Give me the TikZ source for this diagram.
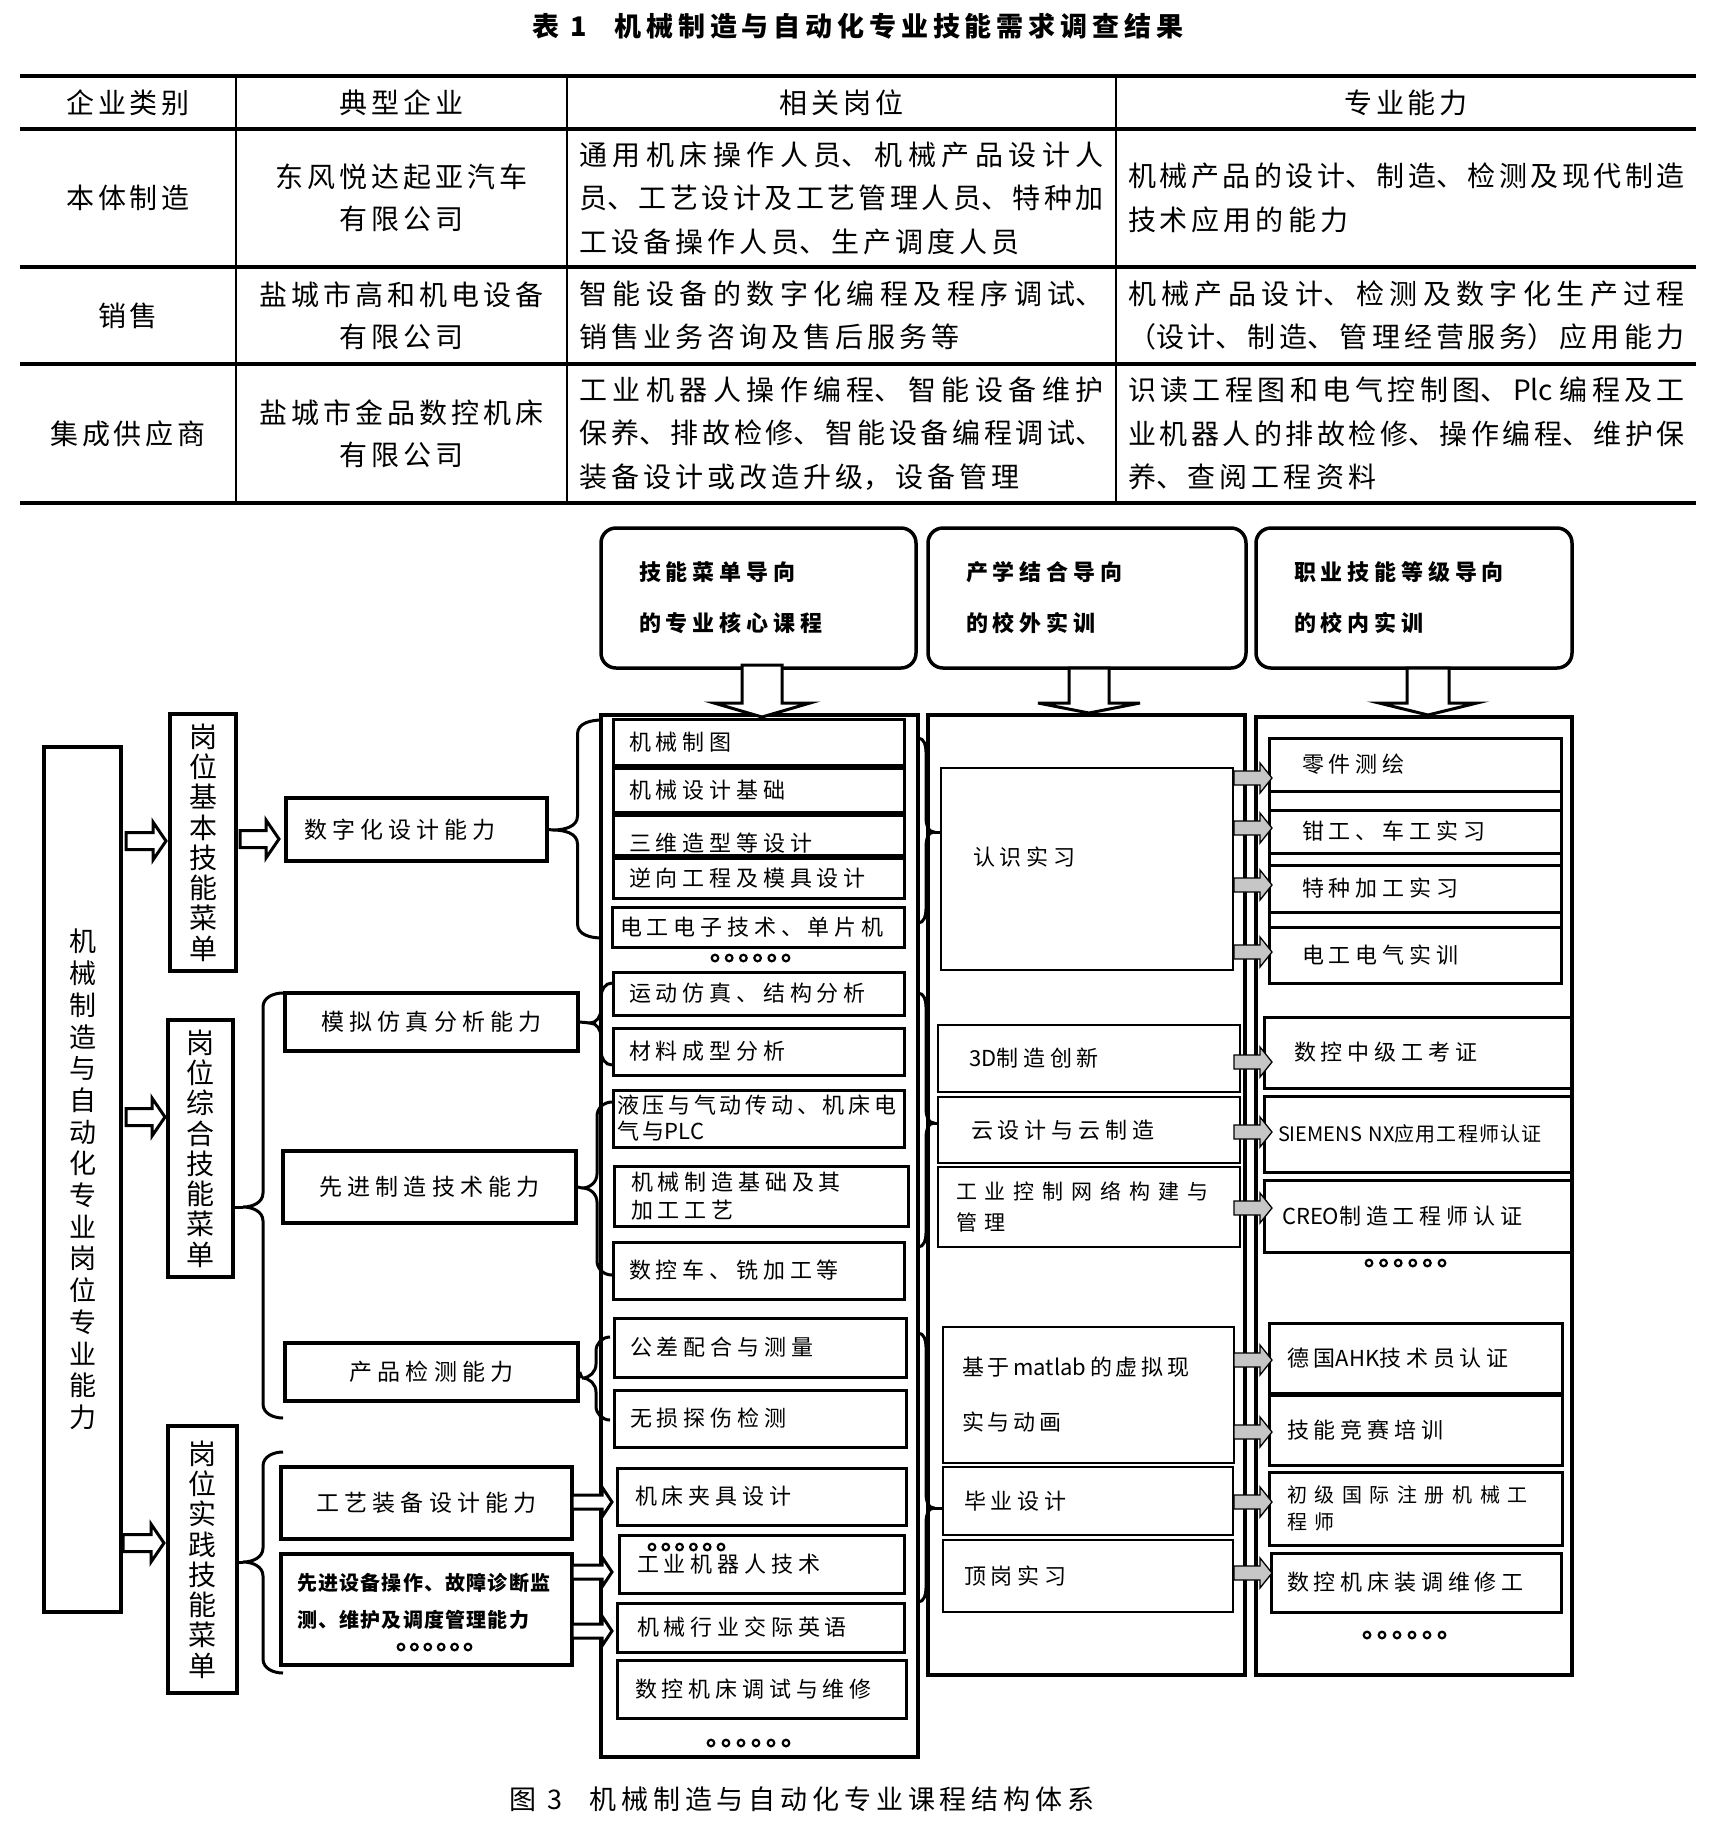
\documentclass[tikz,border=0pt]{standalone}
\usepackage{fontspec}
\setmainfont{Noto Sans CJK SC}
\newfontfamily\tabfont{Noto Sans CJK SC}[LetterSpace=14]
\newfontfamily\ttlfont{Noto Sans CJK SC}[LetterSpace=18]
\newfontfamily\figfont{Noto Sans CJK SC}[LetterSpace=22]
\newfontfamily\figfontm{Noto Sans CJK SC}[LetterSpace=17]
\newfontfamily\figfonts{Noto Sans CJK SC}[LetterSpace=6]
\newfontfamily\figfontw{Noto Sans CJK SC}[LetterSpace=38]
\usetikzlibrary{arrows.meta,calc,positioning}

% justified table cells
\newcommand{\tabj}{\rmfamily\fontsize{28}{43.5}\selectfont
  \XeTeXlinebreaklocale "zh"\XeTeXlinebreakskip=4pt plus 10pt minus 3pt\relax}
% latin words without tracking
\newcommand{\lat}[1]{{\rmfamily #1}}

% braces: x end, y top, y bottom, x tip, y tip
\newcommand{\brrad}{14}
\newcommand{\bracel}[5]{%
  \draw[brc] (#1,-#2) to[out=180,in=90] ({#1/2+#4/2},{-#2-\brrad})
    -- ({#1/2+#4/2},{-#5+\brrad}) to[out=-90,in=0] (#4,-#5)
    to[out=0,in=90] ({#1/2+#4/2},{-#5-\brrad})
    -- ({#1/2+#4/2},{-#3+\brrad}) to[out=-90,in=180] (#1,-#3);}
\newcommand{\bracer}[5]{%
  \draw[brc] (#1,-#2) to[out=0,in=90] ({#1/2+#4/2},{-#2-\brrad})
    -- ({#1/2+#4/2},{-#5+\brrad}) to[out=-90,in=180] (#4,-#5)
    to[out=180,in=90] ({#1/2+#4/2},{-#5-\brrad})
    -- ({#1/2+#4/2},{-#3+\brrad}) to[out=-90,in=0] (#1,-#3);}
% hollow block arrows
\newcommand{\harr}[6]{% x start, x tip, y, shaft half, head half, head length
  \draw[hol] (#1,{-#3+#4}) -- ({#2-#6},{-#3+#4}) -- ({#2-#6},{-#3+#5}) -- (#2,-#3)
    -- ({#2-#6},{-#3-#5}) -- ({#2-#6},{-#3-#4}) -- (#1,{-#3-#4}) -- cycle;}
\newcommand{\darr}[6]{% x centre, y top, y head, y tip, shaft half, head half
  \draw[hol] ({#1-#5},-#2) -- ({#1-#5},-#3) -- ({#1-#6},-#3) -- (#1,-#4)
    -- ({#1+#6},-#3) -- ({#1+#5},-#3) -- ({#1+#5},-#2) -- cycle;}
\newcommand{\garr}[1]{%
  \draw[garrow] (1234,{-#1+7}) -- (1260,{-#1+7}) -- (1260,{-#1+15}) -- (1272,-#1)
    -- (1260,{-#1-15}) -- (1260,{-#1-7}) -- (1234,{-#1-7}) -- cycle;}

\begin{document}
\begin{tikzpicture}[x=1pt,y=1pt,
every node/.style={inner sep=0pt},
tbl/.style={font=\tabfont\fontsize{28}{42}\selectfont, align=center},
tbj/.style={font=\tabj, align=justify, text width=#1},
vbox/.style={draw, line width=3.5pt, align=center, font=\fontsize{28}{30.3}\selectfont},
abox/.style={draw, line width=3.5pt, align=left, font=\figfont\fontsize{23}{28}\selectfont},
colbox/.style={draw, line width=3.5pt},
topbox/.style={draw, line width=3.5pt, rounded corners=15pt, align=left, inner xsep=38pt,
  font=\figfont\bfseries\fontsize{22}{51}\selectfont},
cbox/.style={draw, line width=3pt, align=left, inner xsep=16pt, text width=259pt,
  font=\figfont\fontsize{22}{28}\selectfont},
mbox/.style={draw, line width=2.5pt, align=left, font=\figfont\fontsize{22}{28}\selectfont},
rbox/.style={draw, line width=3pt, align=left, font=\figfont\fontsize{22}{28}\selectfont},
brc/.style={draw, line width=3pt},
hol/.style={draw, fill=white, line width=3pt, line join=miter},
garrow/.style={draw, fill=gray!45, line width=1.3pt},
dotc/.style={draw, line width=2.2pt}]
\useasboundingbox (0,0) rectangle (1716,-1824);

% table 1
\node[font=\ttlfont\bfseries\fontsize{27}{30}\selectfont] (ttl) at (858,-26) {表 1\quad 机械制造与自动化专业技能需求调查结果};
\draw[line width=4.5pt] (20,-76) -- (1696,-76);
\draw[line width=4pt] (20,-129) -- (1696,-129);
\draw[line width=3.5pt] (20,-267) -- (1696,-267);
\draw[line width=3.5pt] (20,-364) -- (1696,-364);
\draw[line width=4.5pt] (20,-503) -- (1696,-503);
\foreach \x in {236,567,1116} \draw[line width=2pt] (\x,-76) -- (\x,-503);
\node[tbl] (h1) at (128,-102.5) {企业类别};
\node[tbl] (h2) at (401.5,-102.5) {典型企业};
\node[tbl] (h3) at (841.5,-102.5) {相关岗位};
\node[tbl] (h4) at (1406,-102.5) {专业能力};
\node[tbl] (k1) at (128,-198) {本体制造};
\node[tbl] (e1) at (401.5,-198) {东风悦达起亚汽车\\有限公司};
\node[tbj=524pt] (p1) at (841.5,-198) {通用机床操作人员、机械产品设计人\linebreak 员、工艺设计及工艺管理人员、特种加\linebreak 工设备操作人员、生产调度人员};
\node[tbj=557pt] (s1) at (1406.5,-198) {机械产品的设计、制造、检测及现代制造\linebreak 技术应用的能力};
\node[tbl] (k2) at (128,-315.5) {销售};
\node[tbl] (e2) at (401.5,-315.5) {盐城市高和机电设备\\有限公司};
\node[tbj=524pt] (p2) at (841.5,-315.5) {智能设备的数字化编程及程序调试、\linebreak 销售业务咨询及售后服务等};
\node[tbj=557pt] (s2) at (1406.5,-315.5) {机械产品设计、检测及数字化生产过程\linebreak （设计、制造、管理经营服务）应用能力};
\node[tbl] (k3) at (128,-433.5) {集成供应商};
\node[tbl] (e3) at (401.5,-433.5) {盐城市金品数控机床\\有限公司};
\node[tbj=524pt] (p3) at (841.5,-433.5) {工业机器人操作编程、智能设备维护\linebreak 保养、排故检修、智能设备编程调试、\linebreak 装备设计或改造升级，设备管理};
\node[tbj=557pt] (s3) at (1406.5,-433.5) {识读工程图和电气控制图、Plc 编程及工\linebreak 业机器人的排故检修、操作编程、维护保\linebreak 养、查阅工程资料};

% figure 3: left part
\node[vbox, font=\fontsize{27}{31.7}\selectfont, minimum width=77pt, minimum height=865pt] (major) at (82.5,-1179.5) {机\\械\\制\\造\\与\\自\\动\\化\\专\\业\\岗\\位\\专\\业\\能\\力};
\node[vbox, minimum width=66pt, minimum height=257pt] (basic) at (203,-842.5) {岗\\位\\基\\本\\技\\能\\菜\\单};
\node[vbox, minimum width=65pt, minimum height=257pt] (comp) at (200.5,-1148.5) {岗\\位\\综\\合\\技\\能\\菜\\单};
\node[vbox, minimum width=69pt, minimum height=267pt] (pract) at (202.5,-1559.5) {岗\\位\\实\\践\\技\\能\\菜\\单};
\harr{126}{166}{841}{8.5}{19}{13}
\harr{126}{165}{1117}{8.5}{19}{13}
\harr{123}{164}{1543}{8.5}{19}{13}
\harr{240}{279}{839}{8.5}{19}{13}

\node[abox, text width=225pt, inner xsep=18pt, minimum height=63pt] (digit) at (416.5,-829.5) {\mbox{数字化设计能力}};
\node[abox, align=center, minimum width=293pt, minimum height=58pt] (simu) at (431.5,-1022) {模拟仿真分析能力};
\node[abox, align=center, minimum width=293pt, minimum height=72pt] (advm) at (429.5,-1187) {先进制造技术能力};
\node[abox, align=center, minimum width=293pt, minimum height=58pt] (insp) at (431.5,-1372) {产品检测能力};
\node[abox, align=center, minimum width=291pt, minimum height=72pt] (tool) at (426.5,-1503) {工艺装备设计能力};
\node[abox, text width=259pt, inner xsep=16pt, minimum height=111pt, text depth=55pt, font=\figfonts\bfseries\fontsize{20}{37}\selectfont] (oper) at (426.5,-1609.5) {\mbox{先进设备操作、故障诊断监}\\\mbox{测、维护及调度管理能力}};
\foreach \i in {0,...,5} \draw[dotc] ({401+13.4*\i},-1647) circle (3.3);

\bracel{283}{993}{1418}{243}{1207}
\draw[brc] (comp.east |- 0,-1207) -- (243,-1207);
\bracel{283}{1452}{1673}{243}{1562}
\draw[brc] (pract.east |- 0,-1562) -- (243,-1562);

% three guiding columns
\node[topbox, text width=239pt, minimum height=140pt] (guide1) at (758.5,-598) {\mbox{技能菜单导向}\\\mbox{的专业核心课程}};
\node[topbox, text width=242pt, minimum height=140pt] (guide2) at (1087,-598) {\mbox{产学结合导向}\\\mbox{的校外实训}};
\node[topbox, text width=240pt, minimum height=140pt] (guide3) at (1414,-598) {\mbox{职业技能等级导向}\\\mbox{的校内实训}};
\node[colbox, minimum width=317pt, minimum height=1042pt] (core) at (759.5,-1236) {};
\node[colbox, minimum width=317pt, minimum height=960pt] (outer) at (1086.5,-1195) {};
\node[colbox, minimum width=316pt, minimum height=958pt] (inner) at (1414,-1196) {};
\darr{762}{665}{703}{717}{20}{48}
\darr{1089}{668}{703}{713}{20}{51}
\darr{1428}{668}{703}{715}{21}{49}

% core courses
\node[cbox, minimum height=46pt] (c1) at (758.5,-742) {\mbox{机械制图}};
\node[cbox, minimum height=44pt] (c2) at (758.5,-790) {\mbox{机械设计基础}};
\node[cbox, minimum height=40pt, text height=34pt] (c3) at (758.5,-835) {\mbox{三维造型等设计}};
\node[cbox, minimum height=40pt] (c4) at (758.5,-878) {\mbox{逆向工程及模具设计}};
\node[cbox, minimum height=40pt, text width=276pt, inner xsep=8pt] (c5) at (758,-927) {\mbox{电工电子技术、单片机}};
\foreach \i in {0,...,5} \draw[dotc] ({715+14.2*\i},-958) circle (3.3);
\node[cbox, minimum height=43pt] (c6) at (758.5,-993.5) {\mbox{运动仿真、结构分析}};
\node[cbox, minimum height=47pt] (c7) at (758.5,-1051.5) {\mbox{材料成型分析}};
\node[cbox, minimum height=57pt, text width=283pt, inner xsep=4pt, font=\figfontm\fontsize{22}{26}\selectfont] (c8) at (758.5,-1118.5) {\mbox{液压与气动传动、机床电}\\\mbox{气与\lat{PLC}}};
\node[cbox, minimum height=60pt, text width=260pt, inner xsep=17pt] (c9) at (761,-1196) {\mbox{机械制造基础及其}\\\mbox{加工工艺}};
\node[cbox, minimum height=57pt] (c10) at (758.5,-1270.5) {\mbox{数控车、铣加工等}};
\node[cbox, minimum height=59pt, text width=260pt] (c11) at (760,-1347.5) {\mbox{公差配合与测量}};
\node[cbox, minimum height=57pt, text width=260pt] (c12) at (760,-1418.5) {\mbox{无损探伤检测}};
\node[cbox, minimum height=57pt, text width=253pt, inner xsep=18pt] (c13) at (761.5,-1496.5) {\mbox{机床夹具设计}};
\node[cbox, minimum height=58pt, text width=249pt, inner xsep=18pt] (c14) at (761.5,-1564) {\mbox{工业机器人技术}};
\foreach \i in {0,...,5} \draw[dotc] ({652+13.8*\i},-1547) circle (3.3);
\node[cbox, minimum height=49pt, text width=247pt, inner xsep=20pt] (c15) at (760.5,-1627.5) {\mbox{机械行业交际英语}};
\node[cbox, minimum height=58pt, text width=253pt, inner xsep=18pt] (c16) at (761.5,-1689) {\mbox{数控机床调试与维修}};
\foreach \i in {0,...,5} \draw[dotc] ({711+15*\i},-1743) circle (3.3);

\bracel{602}{720}{938}{553}{830}
\draw[brc] (digit.east) -- (553,-830);
\bracel{612}{983}{1065}{590}{1023}
\draw[brc] (simu.east) -- (590,-1023);
\bracel{612}{1102}{1275}{582}{1188}
\draw[brc] (advm.east) -- (582,-1188);
\bracel{610}{1337}{1420}{582}{1378}
\draw[brc] (insp.east) -- (582,-1378);
\harr{572}{612}{1502}{7}{15}{10}
\harr{572}{612}{1572}{7}{15}{10}
\harr{572}{612}{1631}{7}{15}{10}

% off-campus training
\node[mbox, minimum height=202pt, text width=228pt, inner xsep=32pt, text depth=25pt] (m1) at (1087,-869) {\mbox{认识实习}};
\node[mbox, minimum height=67pt, text width=240pt, inner xsep=31pt] (m2) at (1089,-1058.5) {\mbox{\lat{3D}制造创新}};
\node[mbox, minimum height=66pt, text width=236pt, inner xsep=33pt] (m3) at (1089,-1130) {\mbox{云设计与云制造}};
\node[mbox, minimum height=80pt, text width=266pt, inner xsep=18pt, font=\figfontw\fontsize{21}{31}\selectfont] (m4) at (1089,-1207) {\mbox{工业控制网络构建与}\\\mbox{管理}};
\node[mbox, minimum height=136pt, text width=253pt, inner xsep=19pt, font=\figfontm\fontsize{22}{55}\selectfont] (m5) at (1088.5,-1395) {\mbox{基于\lat{\,matlab\,}的虚拟现}\\\mbox{实与动画}};
\node[mbox, minimum height=68pt, text width=248pt, inner xsep=21pt] (m6) at (1088,-1501) {\mbox{毕业设计}};
\node[mbox, minimum height=72pt, text width=248pt, inner xsep=21pt] (m7) at (1088,-1576) {\mbox{顶岗实习}};
\bracer{918}{738}{923}{934}{832}
\draw[brc] (934,-832) -- (m1.west |- 0,-832);
\bracer{918}{993}{1247}{934}{1123}
\draw[brc] (934,-1123) -- (m3.west |- 0,-1123);
\bracer{918}{1333}{1602}{934}{1508}
\draw[brc] (934,-1508) -- (m6.west |- 0,-1508);

% on-campus training
\draw[line width=3pt] (1269,-738) rectangle (1561,-983);
\node[rbox, minimum height=53pt, text width=226pt, inner xsep=33pt] (r1) at (1415,-764.5) {\mbox{零件测绘}};
\node[rbox, minimum height=43pt, text width=226pt, inner xsep=33pt] (r2) at (1415,-831.5) {\mbox{钳工、车工实习}};
\node[rbox, minimum height=47pt, text width=226pt, inner xsep=33pt] (r3) at (1415,-888.5) {\mbox{特种加工实习}};
\node[rbox, minimum height=56pt, text width=226pt, inner xsep=33pt] (r4) at (1415,-955) {\mbox{电工电气实训}};
\node[rbox, minimum height=71pt, text width=247pt, inner xsep=30pt] (r5) at (1417.5,-1052.5) {\mbox{数控中级工考证}};
\node[rbox, minimum height=76pt, text width=279pt, inner xsep=14pt, font=\figfonts\fontsize{20}{26}\selectfont] (r6) at (1417.5,-1134) {\mbox{\lat{SIEMENS NX}应用工程师认证}};
\node[rbox, minimum height=72pt, text width=271pt, inner xsep=18pt] (r7) at (1417.5,-1216) {\mbox{\lat{CREO}制造工程师认证}};
\foreach \i in {0,...,5} \draw[dotc] ({1369+14.6*\i},-1263) circle (3.3);
\node[rbox, minimum height=70pt, text width=257pt, inner xsep=18pt] (r8) at (1415.5,-1358) {\mbox{德国\lat{AHK}技术员认证}};
\node[rbox, minimum height=70pt, text width=257pt, inner xsep=18pt] (r9) at (1415.5,-1430) {\mbox{技能竞赛培训}};
\node[rbox, minimum height=73pt, text width=257pt, inner xsep=18pt, font=\figfontw\fontsize{20}{27}\selectfont] (r10) at (1415.5,-1508.5) {\mbox{初级国际注册机械工}\\\mbox{程师}};
\node[rbox, minimum height=59pt, text width=258pt, inner xsep=16pt] (r11) at (1416,-1582.5) {\mbox{数控机床装调维修工}};
\foreach \i in {0,...,5} \draw[dotc] ({1367+15*\i},-1635) circle (3.3);
\foreach \yy in {778,828,885,952,1062,1132,1208,1360,1432,1502,1573} {\garr{\yy}}

\node[font=\ttlfont\fontsize{27}{30}\selectfont] (cap) at (802,-1799) {图 3\quad 机械制造与自动化专业课程结构体系};
\end{tikzpicture}
\end{document}
